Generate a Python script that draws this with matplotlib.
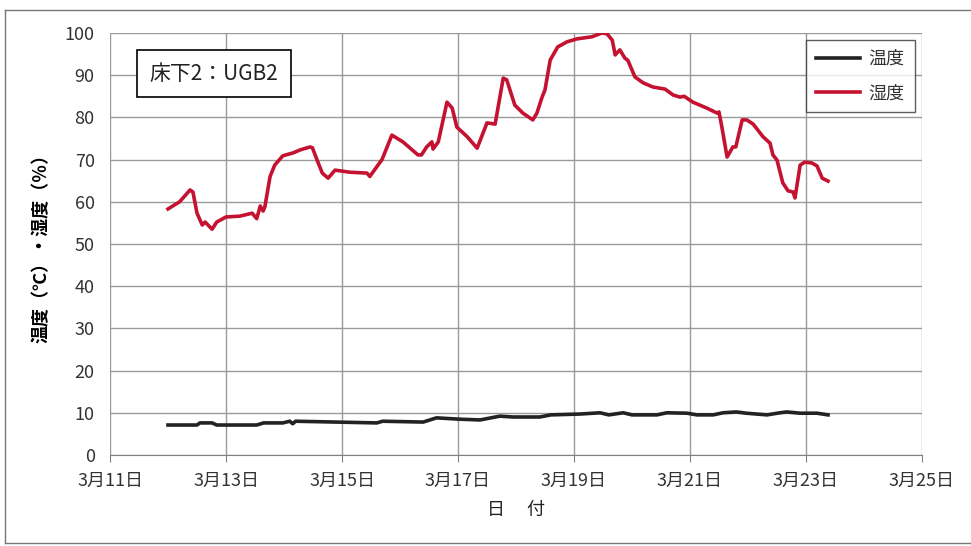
import matplotlib.pyplot as plt
from matplotlib.lines import Line2D
from matplotlib.ticker import FuncFormatter

plt.rcParams['font.family'] = ['Noto Sans CJK JP', 'DejaVu Sans']

# 日付 (3月の日, 小数は時刻)
hum_day = [12.0, 12.2, 12.38, 12.43, 12.5, 12.59, 12.64, 12.76, 12.84, 13.0, 13.24, 13.45,
           13.53, 13.59, 13.64, 13.67, 13.76, 13.84, 13.98, 14.16, 14.28, 14.45, 14.49,
           14.57, 14.66, 14.76, 14.88, 15.14, 15.43, 15.48, 15.6, 15.69, 15.86, 16.05,
           16.31, 16.37, 16.46, 16.55, 16.57, 16.66, 16.81, 16.9, 16.98, 17.16, 17.33,
           17.5, 17.64, 17.78, 17.84, 17.98, 18.12, 18.29, 18.36, 18.45, 18.5, 18.59,
           18.72, 18.88, 19.05, 19.31, 19.48, 19.57, 19.66, 19.71, 19.79, 19.88, 19.93,
           20.05, 20.19, 20.36, 20.57, 20.71, 20.83, 20.9, 21.05, 21.29, 21.47, 21.5,
           21.55, 21.64, 21.74, 21.79, 21.9, 21.98, 22.09, 22.26, 22.38, 22.43, 22.5,
           22.6, 22.69, 22.78, 22.81, 22.9, 22.98, 23.1, 23.19, 23.28, 23.38]
humidity = [58.3, 60.0, 62.8, 62.3, 57.3, 54.5, 55.2, 53.5, 55.2, 56.4, 56.6, 57.3,
            56.0, 59.0, 57.8, 58.8, 66.0, 68.7, 70.9, 71.6, 72.3, 73.0, 72.8,
            69.9, 66.8, 65.6, 67.5, 67.0, 66.8, 66.0, 68.3, 70.0, 75.8, 74.2,
            71.1, 71.1, 73.0, 74.2, 72.5, 74.2, 83.6, 82.2, 77.7, 75.4, 72.7,
            78.7, 78.4, 89.3, 88.9, 82.9, 81.0, 79.4, 81.0, 84.8, 86.5, 93.6,
            96.7, 97.9, 98.6, 99.1, 100.0, 99.8, 98.3, 94.8, 96.0, 94.0, 93.5,
            89.6, 88.2, 87.2, 86.7, 85.3, 84.8, 85.0, 83.6, 82.2, 81.0, 81.3,
            77.7, 70.6, 73.0, 73.0, 79.4, 79.4, 78.4, 75.4, 73.9, 71.1, 69.9,
            64.5, 62.6, 62.3, 60.9, 68.7, 69.4, 69.2, 68.5, 65.6, 64.9]

temp_day = [12.0, 12.5, 12.55, 12.76, 12.84, 13.53, 13.65, 13.98, 14.1, 14.15, 14.2,
            15.6, 15.7, 16.4, 16.63, 17.0, 17.38, 17.72, 17.95, 18.41, 18.6, 19.1,
            19.45, 19.6, 19.85, 20.0, 20.43, 20.6, 20.95, 21.12, 21.4, 21.57, 21.8,
            21.97, 22.33, 22.55, 22.67, 22.9, 23.19, 23.38]
temperature = [7.1, 7.1, 7.6, 7.6, 7.1, 7.1, 7.6, 7.6, 8.0, 7.4, 8.0,
               7.6, 8.0, 7.8, 8.8, 8.5, 8.3, 9.2, 9.0, 9.0, 9.5, 9.7,
               10.0, 9.5, 10.0, 9.5, 9.5, 10.0, 9.9, 9.5, 9.5, 10.0, 10.2,
               9.9, 9.5, 10.0, 10.2, 9.9, 9.9, 9.5]

x_ticks = [11, 13, 15, 17, 19, 21, 23, 25]
y_ticks = [0, 10, 20, 30, 40, 50, 60, 70, 80, 90, 100]

fig = plt.figure(figsize=(9.71, 5.46), dpi=100)
ax = fig.add_axes([0.1133, 0.1667, 0.8362, 0.7729])

ax.plot(temp_day, temperature, color='#222222', lw=2.6, label='温度')
ax.plot(hum_day, humidity, color='#c41230', lw=2.6, label='湿度')

ax.set_xlim(11, 25)
ax.set_ylim(0, 100)
ax.set_xticks(x_ticks)
ax.set_yticks(y_ticks)
ax.xaxis.set_major_formatter(FuncFormatter(lambda v, p: f'3月{int(v)}日'))
ax.grid(True, color='#9a9a9a', lw=1.0)
ax.set_axisbelow(True)
for s in ['top', 'right', 'left']:
    ax.spines[s].set_visible(False)
ax.spines['bottom'].set_color('#808080')
ax.tick_params(axis='x', direction='out', length=5, color='#808080', labelsize=13,
               pad=7, labelcolor='#333333')
ax.tick_params(axis='y', length=0, labelsize=13, pad=11, labelcolor='#333333')

ax.set_xlabel('日　 付', fontsize=13, labelpad=8, color='#222222')
ax.set_ylabel('温度（℃）・湿度（％）', fontsize=13, fontweight='bold', labelpad=10)

ax.text(0.128, 0.903, '床下2：UGB2', transform=ax.transAxes, fontsize=15,
        ha='center', va='center', color='#222222',
        bbox=dict(boxstyle='square,pad=0.6', fc='white', ec='black', lw=1.2))

leg = ax.legend(loc='upper right', bbox_to_anchor=(0.991, 0.983), borderaxespad=0,
                fontsize=13, frameon=True, fancybox=False, edgecolor='#333333',
                handlelength=2.4, handletextpad=0.5, borderpad=0.55, labelspacing=0.9)
leg.get_frame().set_linewidth(1.0)
for t in leg.get_texts():
    t.set_color('#333333')

# 外枠
fig.add_artist(Line2D([0.005, 1.0], [0.982, 0.982], color='#777777', lw=1))
fig.add_artist(Line2D([0.005, 0.005], [0.005, 0.982], color='#777777', lw=1))
fig.add_artist(Line2D([0.005, 1.0], [0.005, 0.005], color='#777777', lw=1))

fig.savefig('out.png', dpi=100)
